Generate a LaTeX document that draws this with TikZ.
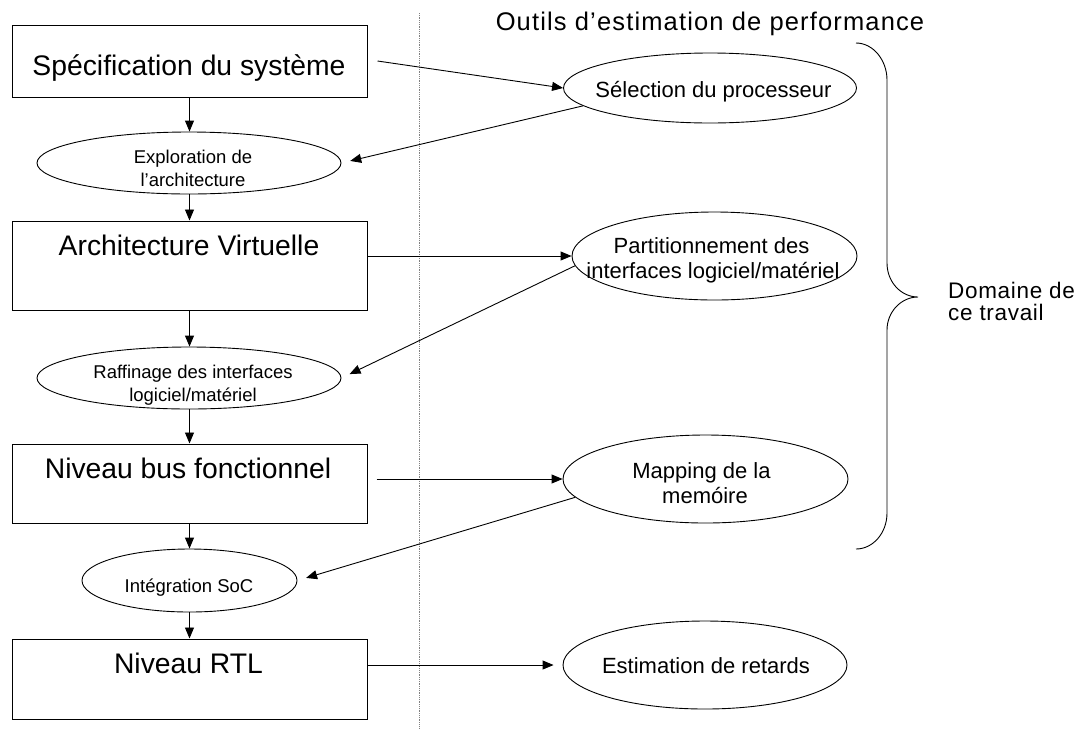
\documentclass[tikz,border=0pt]{standalone}
\usepackage{fontspec}
\setmainfont{Liberation Sans}
\usetikzlibrary{arrows.meta,shapes.geometric,calc}
\begin{document}
\begin{tikzpicture}[x=1pt,y=-1pt,
  box/.style={draw, line width=1pt, minimum width=355pt, inner sep=0pt},
  oval/.style={draw, ellipse, line width=0.9pt, inner sep=0pt},
  bigtxt/.style={anchor=base, font=\fontsize{28.3}{32}\selectfont, inner sep=0pt},
  smalltxt/.style={anchor=base, font=\fontsize{18.5}{22}\selectfont, inner sep=0pt},
  midtxt/.style={anchor=base, font=\fontsize{22}{26}\selectfont, inner sep=0pt},
  sidetxt/.style={anchor=base west, font=\fontsize{22.5}{26}\selectfont\addfontfeatures{LetterSpace=3}, inner sep=0pt},
  arr/.style={-{Triangle[length=11pt,width=9pt]}, line width=0.9pt},
]
\useasboundingbox (0,0) rectangle (1083,729);

% boxes
\node[box, minimum height=72pt] (b1) at (189.5,61) {};
\node[box, minimum height=89pt] (b2) at (189.5,265.5) {};
\node[box, minimum height=79pt] (b3) at (189.5,483.5) {};
\node[box, minimum height=80pt] (b4) at (189.5,679) {};

% left ellipses
\node[oval, minimum width=304pt, minimum height=62pt] (e1) at (189,163) {};
\node[oval, minimum width=304pt, minimum height=62pt] (e2) at (189,378) {};
\node[oval, minimum width=215pt, minimum height=63pt] (e3) at (189.5,580.5) {};

% right ellipses
\node[oval, minimum width=293pt, minimum height=70pt] (s1) at (710,88) {};
\node[oval, minimum width=285pt, minimum height=88pt] (s2) at (714.5,256) {};
\node[oval, minimum width=285pt, minimum height=88pt] (s3) at (705.5,479) {};
\node[oval, minimum width=284pt, minimum height=88pt] (s4) at (705,665) {};

% texts
\node[bigtxt] (t1) at (189,75) {Spécification du système};
\node[bigtxt] (t2) at (189,255) {Architecture Virtuelle};
\node[bigtxt] (t3) at (188,478) {Niveau bus fonctionnel};
\node[bigtxt] (t4) at (188.5,673) {Niveau RTL};

\node[smalltxt] (x1a) at (193,163) {Exploration de};
\node[smalltxt] (x1b) at (193,186) {l’architecture};
\node[smalltxt] (x2a) at (193,378) {Raffinage des interfaces};
\node[smalltxt] (x2b) at (193,401) {logiciel/matériel};
\node[smalltxt] (x3) at (189,592) {Intégration SoC};

\node[midtxt] (y1) at (713.5,97) {Sélection du processeur};
\node[midtxt] (y2a) at (711.5,253) {Partitionnement des};
\node[midtxt] (y2b) at (713,278) {interfaces logiciel/matériel};
\node[midtxt] (y3a) at (701.5,478) {Mapping de la};
\node[midtxt] (y3b) at (705,503) {memóire};
\node[midtxt] (y4) at (706,673) {Estimation de retards};

\node[anchor=base, inner sep=0pt, font=\fontsize{25.5}{30}\selectfont\addfontfeatures{LetterSpace=4.5}] (title) at (710,30) {Outils d’estimation de performance};
\node[sidetxt] (d1) at (948,298) {Domaine de};
\node[sidetxt] (d2) at (948,320) {ce travail};

% dotted separator
\coordinate (dtop) at (419,13);
\coordinate (dbot) at (419,728);
\draw[densely dotted, gray, line width=0.8pt] (dtop) -- (dbot);

% vertical arrows
\draw[arr] (b1.south) -- (b1.south |- e1.north);
\draw[arr] (e1.south -| b2.north) -- (b2.north);
\draw[arr] (b2.south) -- (b2.south |- e2.north);
\draw[arr] (e2.south -| b3.north) -- (b3.north);
\draw[arr] (b3.south) -- (b3.south |- e3.north);
\draw[arr] (e3.south -| b4.north) -- (b4.north);

% horizontal / diagonal arrows
\draw[arr] ($(b1.east)+(10,0)$) -- (s1.west);
\draw[arr, shorten >=9pt] (s1.188) -- (e1.east);
\draw[arr] (b2.east |- s2.west) -- (s2.west);
\draw[arr, shorten >=9pt] (s2.184) -- (e2.east);
\draw[arr] ($(b3.east |- s3.west)+(9,0)$) -- (s3.west);
\draw[arr, shorten >=9pt] (s3.188) -- (e3.east);
\draw[arr, shorten >=9pt] (b4.east |- s4.west) -- (s4.west);

% brace
\draw[line width=0.9pt] (856,43) .. controls (873,43) and (887,60) .. (887,80)
  -- (887,263) .. controls (887,282) and (901,297) .. (918,297)
  .. controls (901,297) and (887,312) .. (887,330)
  -- (887,513) .. controls (887,533) and (873,549) .. (856,549);
\end{tikzpicture}
\end{document}
